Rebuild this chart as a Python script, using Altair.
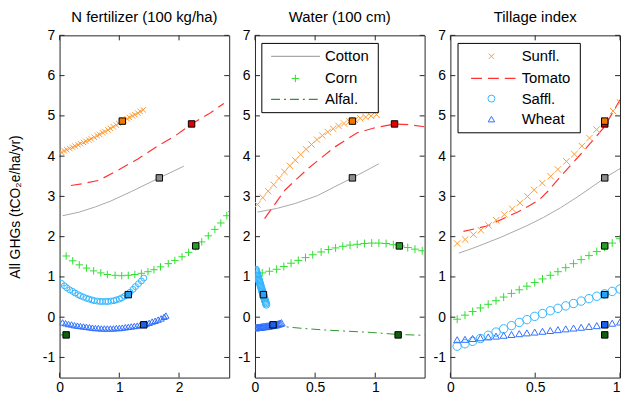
import altair as alt
import pandas as pd

FONT = "Liberation Sans"
FRAME = "#262626"
PANEL_W, PANEL_H = 171, 345
TICK = 5
Y_DOMAIN = [-1.5, 7]
Y_TICKS = [-1, 0, 1, 2, 3, 4, 5, 6, 7]
Y_TITLE = "All GHGs (tCO\u2082e/ha/yr)"

TITLES = ["N fertilizer (100 kg/ha)", "Water (100 cm)", "Tillage index"]
X_DOMAINS = [[0, 2.84], [0, 1.41], [0, 1.0]]
X_TICKS = [[0, 1, 2], [0, 0.5, 1], [0, 0.5, 1]]

COLOR = {"Cotton": "#a8a8a8", "Corn": "#2ee02e", "Alfal.": "#2e962e",
         "Sunfl.": "#ff9a33", "Tomato": "#ff3333", "Saffl.": "#33b5ff", "Wheat": "#2f6fff"}
SQUARE_FILL = {"Cotton": "#8c8c8c", "Corn": "#22a022", "Alfal.": "#0f5f0f",
               "Sunfl.": "#f07800", "Tomato": "#e00000", "Saffl.": "#2aa0f0", "Wheat": "#1f5fef"}

# baseline squares (same y in every panel)
SQ_CROPS = ["Alfal.", "Wheat", "Saffl.", "Corn", "Cotton", "Tomato", "Sunfl."]
SQ_Y = [-0.44, -0.19, 0.56, 1.77, 3.46, 4.80, 4.87]
SQ_X_N = [0.11, 1.41, 1.15, 2.28, 1.67, 2.21, 1.05]
SQ_X_W = [1.19, 0.15, 0.07, 1.20, 0.81, 1.16, 0.81]
SQ_X_T = [0.91, 0.91, 0.91, 0.91, 0.91, 0.91, 0.91]

# ---------------- Panel 1: N fertilizer ----------------
N_COTTON_X = [0.05, 0.33, 0.60, 0.85, 1.20, 1.67, 2.08]
N_COTTON_Y = [2.52, 2.61, 2.74, 2.88, 3.12, 3.46, 3.75]
N_TOMATO_X = [0.19, 0.40, 0.66, 0.98, 1.31, 1.64, 1.95, 2.21, 2.50, 2.75]
N_TOMATO_Y = [3.27, 3.32, 3.40, 3.65, 3.93, 4.25, 4.52, 4.80, 5.05, 5.31]
N_ALFAL_X = [0.0, 0.11]
N_ALFAL_Y = [-0.44, -0.44]
N_CORN_X = [0.11, 0.22, 0.33, 0.45, 0.57, 0.69, 0.80, 0.93, 1.04, 1.15, 1.26, 1.37, 1.48,
            1.58, 1.69, 1.82, 1.93, 2.05, 2.16, 2.28, 2.38, 2.49, 2.60, 2.70, 2.80, 2.88]
N_CORN_Y = [1.52, 1.40, 1.30, 1.22, 1.15, 1.10, 1.06, 1.04, 1.03, 1.04, 1.06, 1.09, 1.13,
            1.18, 1.25, 1.33, 1.41, 1.50, 1.61, 1.75, 1.87, 2.02, 2.18, 2.34, 2.52, 2.62]
N_SUNFL_X = [0.03, 0.08, 0.12, 0.17, 0.22, 0.26, 0.31, 0.35, 0.40, 0.44, 0.49, 0.53, 0.58, 0.63,
             0.67, 0.72, 0.76, 0.81, 0.85, 0.90, 0.95, 0.99, 1.04, 1.08, 1.13, 1.17, 1.22, 1.26,
             1.31, 1.35, 1.40]
N_SUNFL_Y = [4.10, 4.13, 4.16, 4.19, 4.22, 4.25, 4.28, 4.31, 4.34, 4.37, 4.40, 4.43, 4.47, 4.51,
             4.54, 4.58, 4.61, 4.65, 4.69, 4.73, 4.77, 4.81, 4.85, 4.89, 4.93, 4.96, 5.00, 5.03,
             5.07, 5.11, 5.15]
N_SAFFL_X = [0.03, 0.08, 0.12, 0.17, 0.22, 0.26, 0.31, 0.35, 0.40, 0.45, 0.49, 0.54, 0.58, 0.63,
             0.68, 0.72, 0.77, 0.81, 0.86, 0.91, 0.95, 1.00, 1.04, 1.09, 1.14, 1.18, 1.23, 1.27,
             1.32, 1.37, 1.41]
N_SAFFL_Y = [0.84, 0.78, 0.73, 0.68, 0.64, 0.60, 0.56, 0.53, 0.50, 0.47, 0.45, 0.43, 0.41, 0.40,
             0.39, 0.39, 0.39, 0.39, 0.40, 0.41, 0.43, 0.45, 0.48, 0.52, 0.56, 0.62, 0.69, 0.76,
             0.83, 0.90, 0.97]
N_WHEAT_X = [0.05, 0.10, 0.15, 0.20, 0.25, 0.30, 0.35, 0.40, 0.45, 0.50, 0.55, 0.60, 0.65, 0.70,
             0.75, 0.80, 0.85, 0.90, 0.95, 1.00, 1.05, 1.10, 1.15, 1.20, 1.25, 1.30, 1.35, 1.40,
             1.45, 1.50, 1.55, 1.60, 1.65, 1.70, 1.75, 1.78]
N_WHEAT_Y = [-0.13, -0.15, -0.17, -0.18, -0.20, -0.21, -0.22, -0.23, -0.24, -0.25, -0.26, -0.27,
             -0.27, -0.28, -0.28, -0.28, -0.28, -0.28, -0.27, -0.27, -0.26, -0.25, -0.24, -0.23,
             -0.22, -0.21, -0.19, -0.18, -0.16, -0.14, -0.11, -0.09, -0.06, -0.03, 0.01, 0.04]

# ---------------- Panel 2: Water ----------------
W_COTTON_X = [0.02, 0.18, 0.33, 0.52, 0.65, 0.81, 1.03]
W_COTTON_Y = [2.61, 2.70, 2.82, 3.02, 3.22, 3.46, 3.81]
W_TOMATO_X = [0.08, 0.25, 0.44, 0.66, 0.85, 0.99, 1.16, 1.29, 1.41]
W_TOMATO_Y = [2.45, 3.16, 3.69, 4.22, 4.58, 4.70, 4.80, 4.78, 4.73]
W_ALFAL_X = [0.0, 0.22, 0.40, 0.59, 0.78, 0.97, 1.19, 1.41]
W_ALFAL_Y = [-0.20, -0.23, -0.28, -0.32, -0.35, -0.38, -0.43, -0.45]
W_CORN_X = [0.06, 0.12, 0.18, 0.24, 0.30, 0.36, 0.42, 0.48, 0.55, 0.61, 0.67, 0.73, 0.79, 0.85,
            0.91, 0.97, 1.03, 1.09, 1.15, 1.21, 1.27, 1.33, 1.39]
W_CORN_Y = [1.10, 1.14, 1.19, 1.26, 1.34, 1.41, 1.48, 1.55, 1.62, 1.68, 1.72, 1.76, 1.79, 1.81,
            1.83, 1.84, 1.84, 1.83, 1.80, 1.77, 1.73, 1.69, 1.65]
W_SUNFL_X = [0.02, 0.065, 0.11, 0.155, 0.20, 0.245, 0.29, 0.335, 0.38, 0.425, 0.47, 0.515, 0.56,
             0.605, 0.65, 0.695, 0.74, 0.785, 0.83, 0.875, 0.92, 0.965, 1.01]
W_SUNFL_Y = [2.80, 2.97, 3.13, 3.29, 3.45, 3.61, 3.76, 3.90, 4.04, 4.17, 4.29, 4.41, 4.51,
             4.60, 4.68, 4.75, 4.81, 4.86, 4.90, 4.94, 4.97, 5.00, 5.03]
W_SAFFL_X = [0.008, 0.010, 0.013, 0.016, 0.019, 0.022, 0.025, 0.028, 0.031, 0.034, 0.037, 0.040,
             0.043, 0.046, 0.049, 0.052, 0.055, 0.058, 0.061, 0.064, 0.067, 0.070, 0.073, 0.076,
             0.079, 0.082, 0.085, 0.088, 0.091, 0.094]
W_SAFFL_Y = [1.18, 1.15, 1.12, 1.09, 1.06, 1.03, 1.00, 0.97, 0.94, 0.91, 0.88, 0.85, 0.82, 0.79,
             0.76, 0.73, 0.70, 0.67, 0.64, 0.61, 0.58, 0.55, 0.52, 0.49, 0.46, 0.43, 0.40, 0.37,
             0.34, 0.31]
W_WHEAT_X = [0.00, 0.01, 0.02, 0.03, 0.04, 0.05, 0.06, 0.07, 0.08, 0.09, 0.10, 0.11, 0.12, 0.13,
             0.14, 0.15, 0.16, 0.17, 0.18, 0.19, 0.20, 0.21, 0.22]
W_WHEAT_Y = [-0.26, -0.26, -0.25, -0.25, -0.25, -0.24, -0.24, -0.23, -0.23, -0.23, -0.22, -0.22,
             -0.21, -0.21, -0.20, -0.20, -0.19, -0.19, -0.18, -0.17, -0.16, -0.15, -0.14]

# ---------------- Panel 3: Tillage index ----------------
T_COTTON_X = [0.05, 0.15, 0.30, 0.45, 0.55, 0.65, 0.75, 0.85, 0.91, 1.0]
T_COTTON_Y = [1.59, 1.74, 1.99, 2.27, 2.48, 2.72, 2.99, 3.28, 3.46, 3.69]
T_TOMATO_X = [0.077, 0.22, 0.40, 0.47, 0.525, 0.58, 0.64, 0.76, 0.855, 0.91, 1.0]
T_TOMATO_Y = [2.13, 2.27, 2.62, 2.78, 2.92, 3.15, 3.45, 4.01, 4.46, 4.74, 5.40]
T_SUNFL_X = [0.040, 0.087, 0.136, 0.180, 0.225, 0.270, 0.318, 0.365, 0.410, 0.455, 0.494, 0.542,
             0.591, 0.634, 0.684, 0.731, 0.775, 0.820, 0.862, 0.911, 0.959, 1.0]
T_SUNFL_Y = [1.83, 1.93, 2.05, 2.16, 2.28, 2.41, 2.55, 2.69, 2.84, 3.00, 3.16, 3.33,
             3.50, 3.67, 3.87, 4.05, 4.25, 4.45, 4.66, 4.89, 5.12, 5.33]
T_GRID_X = [0.04, 0.086, 0.131, 0.177, 0.223, 0.269, 0.314, 0.36, 0.406, 0.451, 0.497, 0.543,
            0.589, 0.634, 0.68, 0.726, 0.771, 0.817, 0.863, 0.909, 0.954, 1.0]
T_CORN_Y = [-0.05, 0.05, 0.14, 0.23, 0.32, 0.41, 0.50, 0.59, 0.68, 0.77, 0.86, 0.95,
            1.04, 1.13, 1.23, 1.33, 1.43, 1.53, 1.63, 1.74, 1.84, 1.95]
T_SAFFL_Y = [-0.72, -0.66, -0.60, -0.53, -0.45, -0.37, -0.29, -0.21, -0.13, -0.06, 0.02, 0.09,
             0.16, 0.22, 0.28, 0.34, 0.40, 0.46, 0.52, 0.58, 0.64, 0.70]
T_WHEAT_Y = [-0.56, -0.55, -0.53, -0.51, -0.49, -0.47, -0.45, -0.43, -0.41, -0.39, -0.37, -0.35,
             -0.33, -0.31, -0.29, -0.27, -0.25, -0.23, -0.21, -0.18, -0.15, -0.12]

# ---------------- Legends (data units of their panel) ----------------
LEG2_ITEMS = ["Cotton", "Corn", "Alfal."]
LEG2_ROWS = [6.48, 5.93, 5.41]
LEG2_BOX = [0.057, 1.025, 5.08, 6.80]
LEG2_SAMPLE = [0.134, 0.54, 0.336, 0.582]   # line start, line end, marker, text
LEG3_ITEMS = ["Sunfl.", "Tomato", "Saffl.", "Wheat"]
LEG3_ROWS = [6.48, 5.93, 5.43, 4.92]
LEG3_BOX = [0.045, 0.766, 4.58, 6.80]
LEG3_SAMPLE = [0.122, 0.384, 0.242, 0.42]

PLUS = "M-1,0L1,0M0,-1L0,1"
XMARK = "M-1,-1L1,1M-1,1L1,-1"
TOMATO_DASH = [11, 6]
ALFAL_DASH = [9, 4, 2, 4]


def x_axis(i):
    kw = dict(values=X_TICKS[i], title=None, grid=False, domain=False, ticks=False,
              tickSize=0, labelFont=FONT, labelFontSize=14, labelColor="#000",
              labelPadding=3, labelFlush=False, labelExpr="'' + datum.value")
    if i == 2:
        kw["labelAlign"] = {"condition": {"test": "datum.value >= 1", "value": "right"},
                            "value": "center"}
    return alt.Axis(**kw)


def y_axis(i):
    kw = dict(values=Y_TICKS, grid=False, domain=False, ticks=False, tickSize=0,
              labelFont=FONT, labelFontSize=14, labelColor="#000", labelPadding=5,
              labelExpr="'' + datum.value")
    if i == 0:
        kw.update(title=Y_TITLE, titleFont=FONT, titleFontSize=14, titleFontWeight="normal",
                  titleColor="#000", titlePadding=20)
    else:
        kw.update(title=None)
    return alt.Axis(**kw)


def X(i, f="x"):
    return alt.X(f"{f}:Q", scale=alt.Scale(domain=X_DOMAINS[i], nice=False, zero=False),
                 axis=x_axis(i))


def Y(i, f="y"):
    return alt.Y(f"{f}:Q", scale=alt.Scale(domain=Y_DOMAIN, nice=False, zero=False),
                 axis=y_axis(i))


def line_layer(i, xl, yl, color, dash=None, width=1.0):
    df = pd.DataFrame({"x": xl, "y": yl, "o": list(range(len(xl)))})
    kw = dict(color=color, strokeWidth=width, clip=True)
    if dash:
        kw["strokeDash"] = dash
    return alt.Chart(df).mark_line(**kw).encode(x=X(i), y=Y(i), order="o:Q")


def marker_layer(i, xl, yl, shape, size, color, sw=1.0):
    df = pd.DataFrame({"x": xl, "y": yl})
    return alt.Chart(df).mark_point(shape=shape, size=size, filled=False, color=color,
                                    strokeWidth=sw, opacity=1, clip=True).encode(x=X(i), y=Y(i))


def square_layer(i, xl):
    df = pd.DataFrame({"x": xl, "y": SQ_Y, "fill": [SQUARE_FILL[c] for c in SQ_CROPS]})
    return alt.Chart(df).mark_point(shape="square", size=42, filled=True, stroke="#000",
                                    strokeWidth=1, opacity=1).encode(
        x=X(i), y=Y(i), fill=alt.Fill("fill:N", scale=None))


def tick_layers(i):
    ydf = pd.DataFrame({"y": Y_TICKS})
    xdf = pd.DataFrame({"x": X_TICKS[i]})
    st = dict(color=FRAME, strokeWidth=1)
    yl = alt.Chart(ydf).mark_rule(**st).encode(y=Y(i), x=alt.value(0), x2=alt.value(TICK))
    yr = alt.Chart(ydf).mark_rule(**st).encode(y=Y(i), x=alt.value(PANEL_W - TICK),
                                               x2=alt.value(PANEL_W))
    xb = alt.Chart(xdf).mark_rule(**st).encode(x=X(i), y=alt.value(PANEL_H - TICK),
                                               y2=alt.value(PANEL_H))
    xt = alt.Chart(xdf).mark_rule(**st).encode(x=X(i), y=alt.value(0), y2=alt.value(TICK))
    return [yl, yr, xb, xt]


def legend_layers(i, items, rows, box, sample, specs):
    bdf = pd.DataFrame({"x": [box[0]], "x2": [box[1]], "y": [box[2]], "y2": [box[3]]})
    out = [alt.Chart(bdf).mark_rect(fill="white", stroke="#000", strokeWidth=1).encode(
        x=X(i), x2="x2", y=Y(i), y2="y2")]
    for name, ry in zip(items, rows):
        kind, arg, size = specs[name]
        if kind == "line":
            df = pd.DataFrame({"x": [sample[0]], "x2": [sample[1]], "y": [ry]})
            kw = dict(color=COLOR[name], strokeWidth=1.2)
            if arg:
                kw["strokeDash"] = arg
            out.append(alt.Chart(df).mark_rule(**kw).encode(x=X(i), x2="x2", y=Y(i)))
        else:
            df = pd.DataFrame({"x": [sample[2]], "y": [ry]})
            out.append(alt.Chart(df).mark_point(shape=arg, size=size, filled=False,
                                                color=COLOR[name], strokeWidth=1, opacity=1)
                       .encode(x=X(i), y=Y(i)))
    tdf = pd.DataFrame({"x": [sample[3]] * len(items), "y": rows, "t": items})
    out.append(alt.Chart(tdf).mark_text(align="left", baseline="middle", font=FONT,
                                        fontSize=15, color="#000").encode(
        x=X(i), y=Y(i), text="t:N"))
    return out


def panel(i, layers):
    return alt.layer(*layers).properties(
        width=PANEL_W, height=PANEL_H,
        title=alt.TitleParams(text=TITLES[i], font=FONT, fontSize=15, fontWeight="normal",
                              color="#000", offset=3, frame="group"))


p1 = panel(0, tick_layers(0) + [
    line_layer(0, N_COTTON_X, N_COTTON_Y, COLOR["Cotton"]),
    line_layer(0, N_TOMATO_X, N_TOMATO_Y, COLOR["Tomato"], TOMATO_DASH, 1.2),
    line_layer(0, N_ALFAL_X, N_ALFAL_Y, COLOR["Alfal."], ALFAL_DASH),
    marker_layer(0, N_CORN_X, N_CORN_Y, PLUS, 56, COLOR["Corn"]),
    marker_layer(0, N_SUNFL_X, N_SUNFL_Y, XMARK, 30, COLOR["Sunfl."]),
    marker_layer(0, N_SAFFL_X, N_SAFFL_Y, "circle", 36, COLOR["Saffl."]),
    marker_layer(0, N_WHEAT_X, N_WHEAT_Y, "triangle-up", 40, COLOR["Wheat"]),
    square_layer(0, SQ_X_N),
])

legend2_specs = {"Cotton": ("line", None, 0), "Corn": ("mark", PLUS, 56),
                 "Alfal.": ("line", ALFAL_DASH, 0)}
p2 = panel(1, tick_layers(1) + [
    line_layer(1, W_COTTON_X, W_COTTON_Y, COLOR["Cotton"]),
    line_layer(1, W_TOMATO_X, W_TOMATO_Y, COLOR["Tomato"], TOMATO_DASH, 1.2),
    line_layer(1, W_ALFAL_X, W_ALFAL_Y, COLOR["Alfal."], ALFAL_DASH),
    marker_layer(1, W_CORN_X, W_CORN_Y, PLUS, 64, COLOR["Corn"]),
    marker_layer(1, W_SUNFL_X, W_SUNFL_Y, XMARK, 40, COLOR["Sunfl."]),
    marker_layer(1, W_SAFFL_X, W_SAFFL_Y, "circle", 50, COLOR["Saffl."]),
    marker_layer(1, W_WHEAT_X, W_WHEAT_Y, "triangle-up", 56, COLOR["Wheat"]),
    square_layer(1, SQ_X_W),
] + legend_layers(1, LEG2_ITEMS, LEG2_ROWS, LEG2_BOX, LEG2_SAMPLE, legend2_specs))

legend3_specs = {"Sunfl.": ("mark", XMARK, 30), "Tomato": ("line", TOMATO_DASH, 0),
                 "Saffl.": ("mark", "circle", 49), "Wheat": ("mark", "triangle-up", 42)}
p3 = panel(2, tick_layers(2) + [
    line_layer(2, T_COTTON_X, T_COTTON_Y, COLOR["Cotton"]),
    line_layer(2, T_TOMATO_X, T_TOMATO_Y, COLOR["Tomato"], TOMATO_DASH, 1.2),
    marker_layer(2, T_GRID_X, T_CORN_Y, PLUS, 64, COLOR["Corn"]),
    marker_layer(2, T_SUNFL_X, T_SUNFL_Y, XMARK, 42, COLOR["Sunfl."]),
    marker_layer(2, T_GRID_X, T_SAFFL_Y, "circle", 72, COLOR["Saffl."]),
    marker_layer(2, T_GRID_X, T_WHEAT_Y, "triangle-up", 49, COLOR["Wheat"]),
    square_layer(2, SQ_X_T),
] + legend_layers(2, LEG3_ITEMS, LEG3_ROWS, LEG3_BOX, LEG3_SAMPLE, legend3_specs))

chart = alt.hconcat(p1, p2, p3, spacing=7).properties(
    padding={"left": 0, "top": 0, "right": 0, "bottom": 0}
).configure_view(stroke=FRAME, strokeWidth=1)

chart.save("out.html", embed_options={"renderer": "svg", "actions": False})
